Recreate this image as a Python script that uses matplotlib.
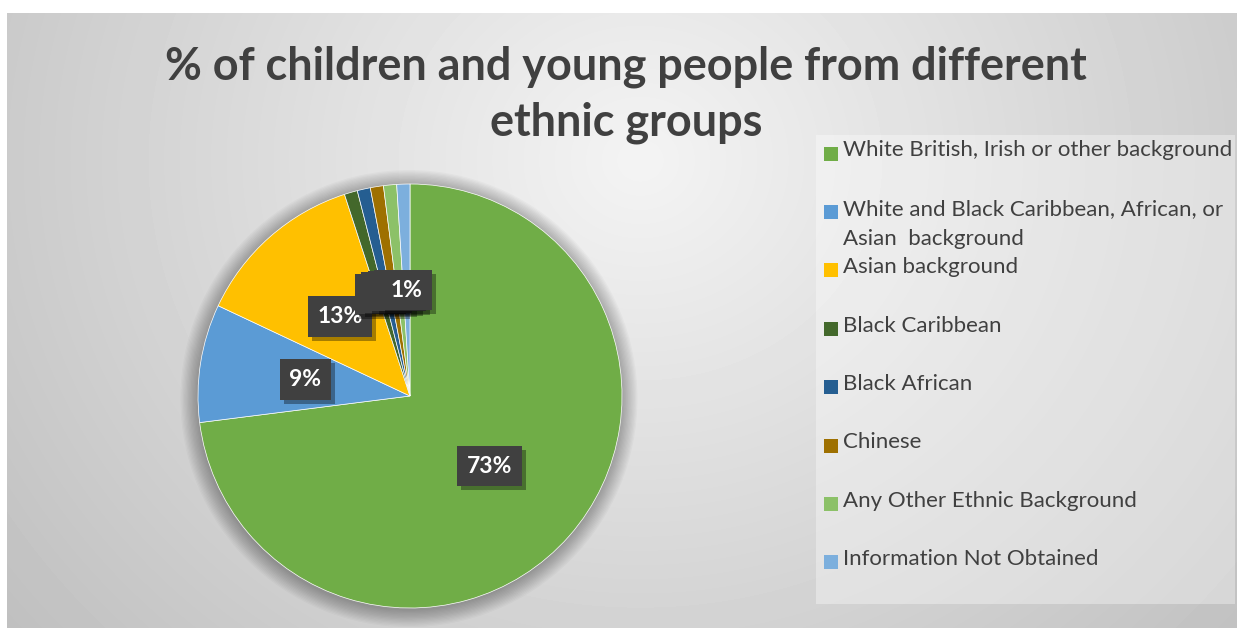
import numpy as np
import matplotlib
matplotlib.use("Agg")
import matplotlib.pyplot as plt
from matplotlib.patches import Rectangle, Circle
import matplotlib.patheffects as pe

plt.rcParams['font.family'] = ['Lato', 'DejaVu Sans']

# data
groups = ["White British, Irish or other background",
          "White and Black Caribbean, African, or\nAsian  background",
          "Asian background",
          "Black Caribbean",
          "Black African",
          "Chinese",
          "Any Other Ethnic Background",
          "Information Not Obtained"]
shares = [73, 9, 13, 1, 1, 1, 1, 1]
colors = ["#70AD47", "#5B9BD5", "#FFC000", "#43682B",
          "#255E91", "#9E7000", "#8CC168", "#7CAFDD"]
title = "% of children and young people from different\nethnic groups"

W, H = 1237, 628
fig = plt.figure(figsize=(W / 100, H / 100), dpi=100)
fig.patch.set_facecolor("white")

# chart area background (radial grey gradient)
bg = fig.add_axes([7 / W, 0, 1 - 7 / W, (H - 13) / H])
yy, xx = np.mgrid[0:H - 13, 0:W - 7]
d = np.hypot(xx + 7 - 640, (yy + 13 - 160) * 1.1)
shade = np.clip(0.955 - 0.18 * d / 720, 0.74, 0.96)
bg.imshow(shade, cmap="gray", vmin=0, vmax=1, aspect="auto",
          extent=[0, 1, 0, 1], origin="upper")
bg.set_axis_off()

# legend panel
leg = fig.add_axes([816 / W, (H - 604) / H, (1235 - 816) / W, (604 - 135) / H])
leg.set_axis_off()
leg.add_patch(Rectangle((0, 0), 1, 1, transform=leg.transAxes,
                        facecolor="white", alpha=0.35, lw=0))

# pie
cx, cy, r = 410, 396, 212
ax = fig.add_axes([(cx - r) / W, (H - cy - r) / H, 2 * r / W, 2 * r / H])
for k in range(14):
    ax.add_patch(Circle((-0.005, -0.012), 1.0 + k * 0.006, color="black",
                        alpha=0.022, lw=0, zorder=0, clip_on=False))
wedges, _, pcts = ax.pie(shares, colors=colors, startangle=90, counterclock=False,
                         autopct="%1.0f%%", pctdistance=0.5,
                         wedgeprops=dict(edgecolor="white", linewidth=0.5),
                         textprops=dict(color="white", fontsize=16.5, fontweight="bold"))
for t in pcts:
    t.set_bbox(dict(boxstyle="square,pad=0.42", facecolor="#404040", edgecolor="none"))
    t.get_bbox_patch().set_path_effects([
        pe.withSimplePatchShadow(offset=(3, -3), shadow_rgbFace="black", alpha=0.35),
        pe.Normal()])
ax.set_xlim(-1, 1)
ax.set_ylim(-1, 1)
ax.set_axis_off()

# title
fig.text(626 / W, 1 - 46 / H, title, ha="center", va="top", fontsize=32.4,
         fontweight="bold", color="#404040", linespacing=1.37)

# legend entries
y0, step = 153.5, 58.4
for i, (lab, col) in enumerate(zip(groups, colors)):
    y = y0 + i * step
    fig.patches.append(Rectangle((824 / W, 1 - (y + 7) / H), 14 / W, 14 / H,
                                 transform=fig.transFigure, facecolor=col, lw=0))
    fig.text(843 / W, 1 - (y - 13) / H, lab, ha="left", va="top", fontsize=16,
             color="#404040", linespacing=1.6)

fig.savefig("out.png", dpi=100)
